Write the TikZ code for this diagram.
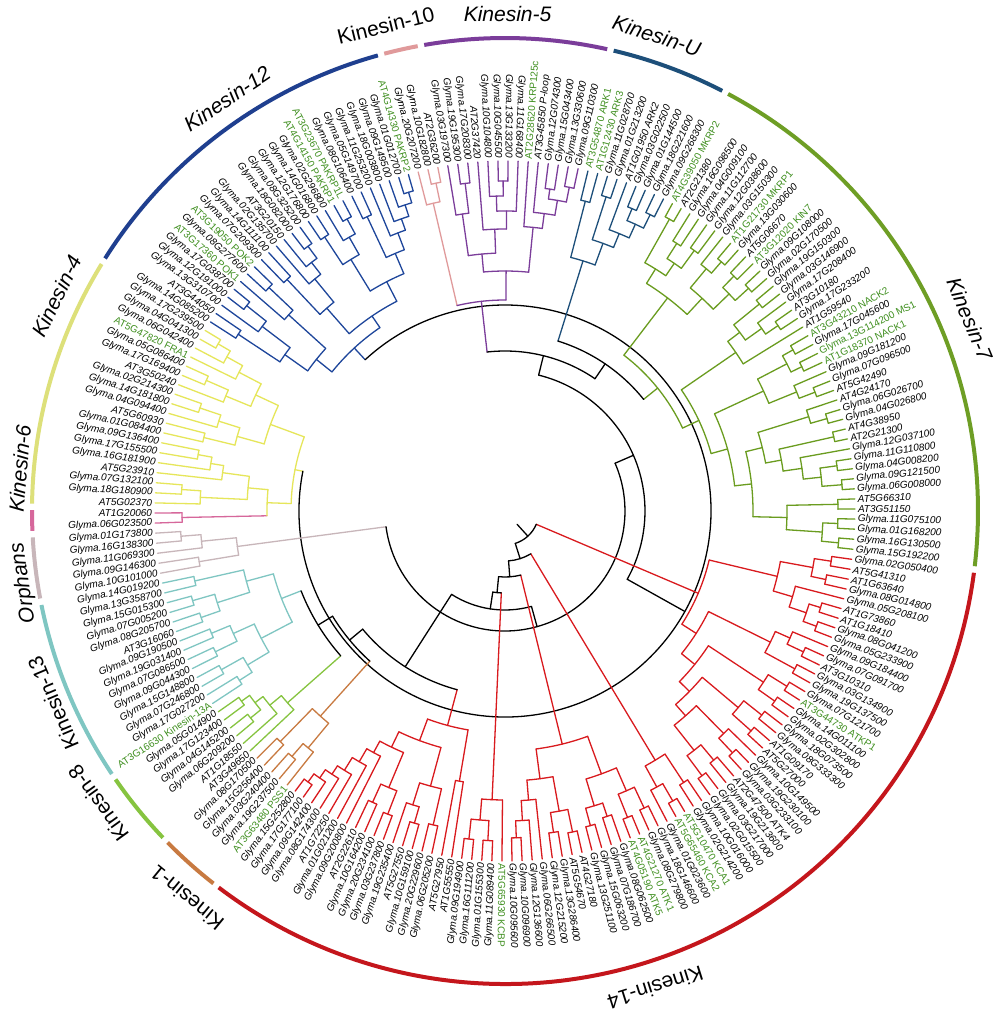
\documentclass[tikz,border=0pt]{standalone}
\usepackage{fontspec}
\setmainfont{Liberation Sans}
\begin{document}
\definecolor{c12}{HTML}{1E469B}
\definecolor{c10}{HTML}{E09A9B}
\definecolor{c5}{HTML}{7B3D9A}
\definecolor{cu}{HTML}{1D4F7A}
\definecolor{c7}{HTML}{6A9C1F}
\definecolor{c14}{HTML}{D91A1E}
\definecolor{c1}{HTML}{C87A41}
\definecolor{c8}{HTML}{86C440}
\definecolor{c13}{HTML}{7FC6C2}
\definecolor{cor}{HTML}{C8B6BA}
\definecolor{c6}{HTML}{D6679B}
\definecolor{c4}{HTML}{E6E65A}
\definecolor{a12}{HTML}{1F3F8F}
\definecolor{a14}{HTML}{C4161C}
\definecolor{a7}{HTML}{6E9E25}
\definecolor{a4}{HTML}{DDE07A}
\definecolor{grn}{HTML}{3F8F1F}
\def\ThZ{147.3}
\def\DTh{1.65138}
\def\Rtip{350}
\def\Rlab{352}
\newcommand\mkleaf[2]{%
  \pgfmathsetmacro\tmpa{\ThZ-\DTh*#1}%
  \expandafter\xdef\csname na@L#1\endcsname{\tmpa}%
  \expandafter\xdef\csname nr@L#1\endcsname{\Rtip}%
  \expandafter\xdef\csname nc@L#1\endcsname{#2}}
\newcommand\clade[4]{%
  \xdef\amin{10000}\xdef\amax{-10000}%
  \foreach \ch in {#4}{%
    \edef\ca{\csname na@\ch\endcsname}%
    \edef\cr{\csname nr@\ch\endcsname}%
    \edef\cc{\csname nc@\ch\endcsname}%
    \draw[br,color=\cc] (\ca:#3pt) -- (\ca:\cr pt);
    \pgfmathsetmacro\tmpb{min(\amin,\ca)}\xdef\amin{\tmpb}%
    \pgfmathsetmacro\tmpb{max(\amax,\ca)}\xdef\amax{\tmpb}%
  }%
  \draw[br,color=#1] (\amin:#3pt) arc[start angle=\amin,end angle=\amax,radius=#3pt];
  \pgfmathsetmacro\tmpb{(\amin+\amax)/2}%
  \coordinate (n-#2) at (\tmpb:#3pt);
  \expandafter\xdef\csname na@#2\endcsname{\tmpb}%
  \expandafter\xdef\csname nr@#2\endcsname{#3}%
  \expandafter\xdef\csname nc@#2\endcsname{#1}}
\newcommand\leaflabL[3]{%
  \pgfmathsetmacro\tmpr{\tmpa+180}%
  \node[#2,anchor=east,rotate=\tmpr] (t#1) at (\tmpa:\Rlab pt) {#3};}
\newcommand\leaflab[3]{%
  \pgfmathsetmacro\tmpa{\ThZ-\DTh*#1}%
  \ifnum#1>36\relax
    \ifnum#1<145\relax
      \node[#2,anchor=west,rotate=\tmpa] (t#1) at (\tmpa:\Rlab pt) {#3};%
    \else\leaflabL{#1}{#2}{#3}\fi
  \else\leaflabL{#1}{#2}{#3}\fi}
\newcommand\garc[3]{%
  \pgfmathsetmacro\gaa{\ThZ-\DTh*(#1-0.5)-0.4}%
  \pgfmathsetmacro\gbb{\ThZ-\DTh*(#2+0.5)+0.4}%
  \draw[line width=4pt,color=#3] (\gaa:473pt) arc[start angle=\gaa,end angle=\gbb,radius=473pt];}
\newcommand\glab[4]{% angle, radius, shape, text
  \pgfmathsetmacro\tmpr{#1-90}%
  \node[grp,#3,rotate=\tmpr] (g-#4) at (#1:#2pt) {#4};}
\begin{tikzpicture}[
  br/.style={line width=1.3pt,line cap=round,line join=round},
  lb/.style={font=\fontsize{10}{12}\selectfont\itshape,inner sep=0.8pt,text=black},
  lg/.style={font=\fontsize{10}{12}\selectfont,inner sep=0.8pt,text=grn},
  grp/.style={font=\fontsize{21}{25}\selectfont,inner sep=0pt,text=black},
  it/.style={font=\fontsize{21}{25}\selectfont\itshape}]
\fill[white] (-505pt,-504pt) rectangle (495pt,511pt);
\useasboundingbox (-505pt,-504pt) rectangle (495pt,511pt);
% leaves
\foreach \i in {0,...,25}{\mkleaf{\i}{c12}}
\foreach \i in {26,...,28}{\mkleaf{\i}{c10}}
\foreach \i in {29,...,42}{\mkleaf{\i}{c5}}
\foreach \i in {43,...,51}{\mkleaf{\i}{cu}}
\foreach \i in {52,...,93}{\mkleaf{\i}{c7}}
\foreach \i in {94,...,166}{\mkleaf{\i}{c14}}
\foreach \i in {167,...,171}{\mkleaf{\i}{c1}}
\foreach \i in {172,...,177}{\mkleaf{\i}{c8}}
\foreach \i in {178,...,191}{\mkleaf{\i}{c13}}
\foreach \i in {192,...,196}{\mkleaf{\i}{cor}}
\foreach \i in {197,198}{\mkleaf{\i}{c6}}
\foreach \i in {199,...,217}{\mkleaf{\i}{c4}}
% Kinesin-12
\clade{c12}{a1}{320}{L0,L1}
\clade{c12}{a2}{330}{L3,L4}
\clade{c12}{a3}{305}{L2,a2}
\clade{c12}{a4}{270}{a1,a3}
\clade{c12}{a5}{325}{L6,L7}
\clade{c12}{a6}{292}{L5,a5}
\clade{c12}{K12a}{242}{a4,a6}
\clade{c12}{b1}{318}{L8,L9}
\clade{c12}{b2}{330}{L12,L13}
\clade{c12}{b3}{315}{L11,b2}
\clade{c12}{b4}{300}{L10,b3}
\clade{c12}{b5}{270}{b1,b4}
\clade{c12}{b6}{328}{L14,L15}
\clade{c12}{b7}{332}{L17,L18}
\clade{c12}{b8}{315}{L16,b7}
\clade{c12}{b9}{295}{b6,b8}
\clade{c12}{b10}{325}{L19,L20}
\clade{c12}{b11}{333}{L24,L25}
\clade{c12}{b12}{322}{L23,b11}
\clade{c12}{b13}{310}{L22,b12}
\clade{c12}{b14}{298}{L21,b13}
\clade{c12}{b15}{280}{b10,b14}
\clade{c12}{b16}{258}{b9,b15}
\clade{c12}{K12b}{236}{b5,b16}
\clade{c12}{K12}{222}{K12a,K12b}
% Kinesin-6 / Kinesin-4
\clade{c6}{K6}{323}{L197,L198}
\clade{c4}{d1}{324}{L200,L201}
\clade{c4}{d2}{305}{L199,d1}
\clade{c4}{d3}{312}{L204,L205}
\clade{c4}{d4}{298}{L203,d3}
\clade{c4}{d5}{285}{L202,d4}
\clade{c4}{K4ab}{258}{d2,d5}
\clade{c4}{K6K4}{238}{K6,K4ab}
\clade{c4}{d6}{310}{L206,L207}
\clade{c4}{d7}{322}{L209,L210}
\clade{c4}{d8}{300}{L208,d7}
\clade{c4}{d9}{278}{d6,d8}
\clade{c4}{d10}{326}{L212,L213}
\clade{c4}{d11}{302}{L211,d10}
\clade{c4}{d12}{332}{L216,L217}
\clade{c4}{d13}{318}{L215,d12}
\clade{c4}{d14}{300}{L214,d13}
\clade{c4}{d15}{275}{d11,d14}
\clade{c4}{K4cd}{250}{d9,d15}
\clade{c4}{K4}{214}{K6K4,K4cd}
\clade{black}{K12K4}{206}{K12,K4}
% Kinesin-10 / Kinesin-5
\clade{c10}{e1}{335}{L27,L28}
\clade{c10}{K10}{316}{L26,e1}
\clade{c5}{f1}{330}{L30,L31}
\clade{c5}{f2}{300}{L29,f1}
\clade{c5}{f3}{330}{L34,L35}
\clade{c5}{f4}{315}{L33,f3}
\clade{c5}{f5}{300}{f4,L36}
\clade{c5}{f6}{282}{L32,f5}
\clade{c5}{f7}{258}{f2,f6}
\clade{c5}{f8}{325}{L39,L40}
\clade{c5}{f9}{330}{L41,L42}
\clade{c5}{f10}{315}{f8,f9}
\clade{c5}{f11}{300}{L38,f10}
\clade{c5}{f12}{285}{L37,f11}
\clade{c5}{K5}{240}{f7,f12}
\clade{c5}{K10K5}{211}{K10,K5}
% Kinesin-U
\clade{cu}{g1}{320}{L43,L44}
\clade{cu}{g2}{330}{L45,L46}
\clade{cu}{g3}{328}{L48,L49}
\clade{cu}{g4}{330}{L50,L51}
\clade{cu}{g5}{315}{g3,g4}
\clade{cu}{g6}{300}{L47,g5}
\clade{cu}{g7}{285}{g2,g6}
\clade{cu}{KU}{262}{g1,g7}
% Kinesin-7
\clade{c7}{h1}{335}{L52,L53}
\clade{c7}{h2}{318}{L54,L55}
\clade{c7}{h3}{322}{L56,L57}
\clade{c7}{h4}{300}{h2,h3}
\clade{c7}{U1}{285}{h1,h4}
\clade{c7}{h5}{330}{L59,L60}
\clade{c7}{h6}{315}{L58,h5}
\clade{c7}{h7}{328}{L61,L62}
\clade{c7}{h8}{330}{L63,L64}
\clade{c7}{h9}{312}{h7,h8}
\clade{c7}{U2}{290}{h6,h9}
\clade{c7}{U}{268}{U1,U2}
\clade{c7}{i1}{328}{L65,L66}
\clade{c7}{i2}{330}{L68,L69}
\clade{c7}{i3}{315}{L67,i2}
\clade{c7}{i4}{295}{i1,i3}
\clade{c7}{i5}{280}{i4,L70}
\clade{c7}{i6}{330}{L71,L72}
\clade{c7}{i7}{330}{L73,L74}
\clade{c7}{i8}{318}{i6,i7}
\clade{c7}{i9}{332}{L76,L77}
\clade{c7}{i10}{315}{L75,i9}
\clade{c7}{i11}{285}{i8,i10}
\clade{c7}{i12}{335}{L79,L80}
\clade{c7}{i13}{318}{L78,i12}
\clade{c7}{i14}{337}{L81,L82}
\clade{c7}{i15}{335}{L84,L85}
\clade{c7}{i16}{338}{L86,L87}
\clade{c7}{i17}{318}{i15,i16}
\clade{c7}{i18}{300}{L83,i17}
\clade{c7}{i19}{281}{i14,i18}
\clade{c7}{i20}{265}{i13,i19}
\clade{c7}{i21}{333}{L88,L89}
\clade{c7}{i22}{333}{L90,L91}
\clade{c7}{i23}{335}{L92,L93}
\clade{c7}{i24}{318}{i22,i23}
\clade{c7}{i25}{282}{i21,i24}
\clade{c7}{i26}{248}{i20,i25}
\clade{c7}{i27}{231}{i11,i26}
\clade{c7}{i28}{214}{i5,i27}
\clade{c7}{K7}{196}{U,i28}
\clade{black}{KUK7}{178}{KU,K7}
\clade{black}{A}{160}{K10K5,KUK7}
\clade{black}{B}{140}{K12K4,A}
% Orphans
\clade{cor}{j1}{310}{L192,L193}
\clade{cor}{j2}{325}{L195,L196}
\clade{cor}{j3}{305}{L194,j2}
\clade{cor}{Orph}{270}{j1,j3}
\clade{black}{C}{120}{B,Orph}
% Kinesin-14 R1
\clade{c14}{k1}{330}{L94,L95}
\clade{c14}{k2}{328}{L96,L97}
\clade{c14}{k3}{313}{k1,k2}
\clade{c14}{k4}{330}{L99,L100}
\clade{c14}{k5}{332}{L101,L102}
\clade{c14}{k6}{318}{k4,k5}
\clade{c14}{k7}{300}{L98,k6}
\clade{c14}{k8}{280}{k3,k7}
\clade{c14}{k9}{330}{L104,L105}
\clade{c14}{k10}{312}{L103,k9}
\clade{c14}{k11}{330}{L106,L107}
\clade{c14}{k12}{296}{k10,k11}
\clade{c14}{k13}{332}{L108,L109}
\clade{c14}{k14}{330}{L110,L111}
\clade{c14}{k15}{310}{k13,k14}
\clade{c14}{k16}{328}{L112,L113}
\clade{c14}{k17}{330}{L114,L115}
\clade{c14}{k18}{305}{k16,k17}
\clade{c14}{k19}{332}{L117,L118}
\clade{c14}{k20}{312}{L116,k19}
\clade{c14}{k21}{325}{L119,L120}
\clade{c14}{k22}{330}{L121,L122}
\clade{c14}{k23}{305}{k21,k22}
\clade{c14}{k24}{273}{k20,k23}
\clade{c14}{k25}{258}{k18,k24}
\clade{c14}{k26}{244}{k15,k25}
\clade{c14}{k27}{227}{k12,k26}
\clade{c14}{R1}{210}{k8,k27}
% R2
\clade{c14}{m1}{325}{L123,L124}
\clade{c14}{m2}{335}{L125,L126}
\clade{c14}{m3}{315}{m2,L127}
\clade{c14}{R2}{291}{m1,m3}
% R3
\clade{c14}{n1}{328}{L128,L129}
\clade{c14}{n2}{330}{L130,L131}
\clade{c14}{n3}{305}{n1,n2}
\clade{c14}{n4}{322}{L132,L133}
\clade{c14}{n5}{326}{L134,L135}
\clade{c14}{n6}{308}{n4,n5}
\clade{c14}{n7}{280}{n3,n6}
\clade{c14}{n8}{327}{L142,L143}
\clade{c14}{n9}{310}{L141,n8}
\clade{c14}{n10}{290}{L140,n9}
\clade{c14}{n11}{325}{L138,L139}
\clade{c14}{n12}{328}{L136,L137}
\clade{c14}{n13}{305}{n11,n12}
\clade{c14}{n14}{270}{n10,n13}
\clade{c14}{R3}{240}{n7,n14}
% R4
\clade{c14}{o1}{330}{L147,L148}
\clade{c14}{o2}{330}{L145,L146}
\clade{c14}{o3}{310}{o1,o2}
\clade{c14}{R4}{289}{o3,L144}
% R5
\clade{c14}{s1}{274}{L149,L150}
\clade{c14}{s2}{322}{L151,L152}
\clade{c14}{s3}{325}{L153,L154}
\clade{c14}{s4}{308}{s3,L155}
\clade{c14}{s5}{285}{s2,s4}
\clade{c14}{s6}{325}{L156,L157}
\clade{c14}{s7}{320}{L158,L159}
\clade{c14}{s8}{300}{s6,s7}
\clade{c14}{s9}{335}{L165,L166}
\clade{c14}{s10}{325}{L164,s9}
\clade{c14}{s11}{315}{L163,s10}
\clade{c14}{s12}{305}{L162,s11}
\clade{c14}{s13}{290}{L161,s12}
\clade{c14}{s14}{275}{L160,s13}
\clade{c14}{s15}{262}{s8,s14}
\clade{c14}{s16}{245}{s5,s15}
\clade{c14}{R5}{222}{s1,s16}
% Kinesin-1
\clade{c1}{t1}{322}{L170,L171}
\clade{c1}{t2}{325}{L168,L169}
\clade{c1}{t3}{308}{t2,L167}
\clade{c1}{K1}{276}{t1,t3}
% Kinesin-8
\clade{c8}{u1}{328}{L174,L175}
\clade{c8}{u2}{325}{L176,L177}
\clade{c8}{u3}{315}{u1,u2}
\clade{c8}{u4}{305}{L173,u3}
\clade{c8}{K8}{290}{L172,u4}
% Kinesin-13
\clade{c13}{v1}{318}{L190,L191}
\clade{c13}{v2}{325}{L188,L189}
\clade{c13}{v3}{322}{L186,L187}
\clade{c13}{v4}{302}{v2,v3}
\clade{c13}{v5}{268}{v1,v4}
\clade{c13}{v6}{318}{L184,L185}
\clade{c13}{v7}{322}{L182,L183}
\clade{c13}{v8}{298}{v6,v7}
\clade{c13}{v9}{325}{L180,L181}
\clade{c13}{v10}{315}{L178,L179}
\clade{c13}{v11}{300}{v9,v10}
\clade{c13}{v12}{275}{v8,v11}
\clade{c13}{K13}{240}{v5,v12}
% backbone
\clade{black}{G}{219}{K13,K8}
\clade{black}{F}{202}{G,K1}
\clade{black}{E}{185}{R5,F}
\clade{black}{D}{99}{C,E}
\clade{black}{H}{82}{D,R4}
\clade{black}{I}{66}{H,R3}
\clade{black}{J}{50}{I,R2}
\clade{black}{K}{34}{J,R1}
\edef\rootang{\csname na@K\endcsname}
\coordinate (root) at (\rootang:18pt);
\draw[br] (n-K) -- (root);
% group arcs
\garc{0}{25}{a12}
\garc{26}{28}{c10}
\garc{29}{42}{c5}
\garc{43}{51}{cu}
\garc{52}{93}{a7}
\garc{94}{166}{a14}
\garc{167}{171}{c1}
\garc{172}{177}{c8}
\garc{178}{191}{c13}
\garc{192}{196}{cor}
\garc{197}{198}{c6}
\garc{199}{217}{a4}
% group labels
\glab{124}{497}{it}{Kinesin-12}
\glab{103.8}{500}{}{Kinesin-10}
\glab{89.7}{497}{it}{Kinesin-5}
\glab{72.3}{499}{it}{Kinesin-U}
\glab{22.4}{503}{it}{Kinesin-7}
\glab{-72.5}{500}{}{Kinesin-14}
\glab{-129.4}{501}{}{Kinesin-1}
\glab{-144.3}{501}{}{Kinesin-8}
\glab{-157}{491}{}{Kinesin-13}
\glab{-171.5}{487}{it}{Orphans}
\glab{175}{487}{it}{Kinesin-6}
\glab{154.4}{497}{it}{Kinesin-4}
% leaf labels
\leaflab{0}{lb}{Glyma.14G085200}
\leaflab{1}{lb}{AT3G44050}
\leaflab{2}{lb}{Glyma.13G310700}
\leaflab{3}{lb}{Glyma.12G191000}
\leaflab{4}{lb}{Glyma.17G038700}
\leaflab{5}{lg}{AT3G17360 POK1}
\leaflab{6}{lb}{Glyma.08G277600}
\leaflab{7}{lg}{AT3G19050 POK2}
\leaflab{8}{lb}{Glyma.07G209300}
\leaflab{9}{lb}{Glyma.14G111100}
\leaflab{10}{lb}{Glyma.02G135700}
\leaflab{11}{lb}{AT3G20150}
\leaflab{12}{lb}{Glyma.18G082000}
\leaflab{13}{lb}{Glyma.08G325200}
\leaflab{14}{lb}{Glyma.12G176800}
\leaflab{15}{lb}{Glyma.14G016800}
\leaflab{16}{lb}{Glyma.02G296800}
\leaflab{17}{lg}{AT4G14150 PAKRP1}
\leaflab{18}{lg}{AT3G23670 PAKRP1L}
\leaflab{19}{lb}{Glyma.08G106400}
\leaflab{20}{lb}{Glyma.05G149700}
\leaflab{21}{lb}{Glyma.11G253200}
\leaflab{22}{lb}{Glyma.18G003800}
\leaflab{23}{lb}{Glyma.09G149500}
\leaflab{24}{lb}{Glyma.01G012700}
\leaflab{25}{lg}{AT4G14330 PAKRP2}
\leaflab{26}{lb}{Glyma.20G207200}
\leaflab{27}{lb}{Glyma.10G182800}
\leaflab{28}{lb}{AT2G36200}
\leaflab{29}{lb}{Glyma.03G197300}
\leaflab{30}{lb}{Glyma.19G195300}
\leaflab{31}{lb}{Glyma.17G208300}
\leaflab{32}{lb}{AT2G37420}
\leaflab{33}{lb}{Glyma.10G104800}
\leaflab{34}{lb}{Glyma.10G045500}
\leaflab{35}{lb}{Glyma.13G133200}
\leaflab{36}{lb}{Glyma.11G168400}
\leaflab{37}{lg}{AT2G28620 KRP125c}
\leaflab{38}{lb}{AT3G45850 P-loop}
\leaflab{39}{lb}{Glyma.12G074300}
\leaflab{40}{lb}{Glyma.15G043400}
\leaflab{41}{lb}{Glyma.13G330600}
\leaflab{42}{lb}{Glyma.09G110300}
\leaflab{43}{lg}{AT3G54870 ARK1}
\leaflab{44}{lg}{AT1G12430 ARK3}
\leaflab{45}{lb}{Glyma.11G028700}
\leaflab{46}{lb}{Glyma.01G213200}
\leaflab{47}{lb}{AT1G01950 ARK2}
\leaflab{48}{lb}{Glyma.03G022500}
\leaflab{49}{lb}{Glyma.01G144500}
\leaflab{50}{lb}{Glyma.18G221600}
\leaflab{51}{lb}{Glyma.09G268300}
\leaflab{52}{lg}{AT4G39050 MKRP2}
\leaflab{53}{lb}{AT2G21380}
\leaflab{54}{lb}{Glyma.16G098500}
\leaflab{55}{lb}{Glyma.04G009100}
\leaflab{56}{lb}{Glyma.11G112700}
\leaflab{57}{lb}{Glyma.12G038600}
\leaflab{58}{lb}{Glyma.03G150300}
\leaflab{59}{lg}{AT1G21730 MKRP1}
\leaflab{60}{lb}{Glyma.13G030600}
\leaflab{61}{lb}{AT5G06670}
\leaflab{62}{lg}{AT3G12020 KIN7}
\leaflab{63}{lb}{Glyma.09G108000}
\leaflab{64}{lb}{Glyma.02G170500}
\leaflab{65}{lb}{Glyma.19G150300}
\leaflab{66}{lb}{Glyma.03G146900}
\leaflab{67}{lb}{Glyma.17G208400}
\leaflab{68}{lb}{AT3G10180}
\leaflab{69}{lb}{Glyma.17G233200}
\leaflab{70}{lb}{AT1G59540}
\leaflab{71}{lg}{AT3G43210 NACK2}
\leaflab{72}{lb}{Glyma.17G045600}
\leaflab{73}{lg}{Glyma.13G114200 MS1}
\leaflab{74}{lg}{AT1G18370 NACK1}
\leaflab{75}{lb}{Glyma.09G181200}
\leaflab{76}{lb}{Glyma.07G096500}
\leaflab{77}{lb}{AT5G42490}
\leaflab{78}{lb}{AT4G24170}
\leaflab{79}{lb}{Glyma.06G026700}
\leaflab{80}{lb}{Glyma.04G026800}
\leaflab{81}{lb}{AT4G38950}
\leaflab{82}{lb}{AT2G21300}
\leaflab{83}{lb}{Glyma.12G037100}
\leaflab{84}{lb}{Glyma.11G110800}
\leaflab{85}{lb}{Glyma.04G008200}
\leaflab{86}{lb}{Glyma.09G121500}
\leaflab{87}{lb}{Glyma.06G008000}
\leaflab{88}{lb}{AT5G66310}
\leaflab{89}{lb}{AT3G51150}
\leaflab{90}{lb}{Glyma.11G075100}
\leaflab{91}{lb}{Glyma.01G168200}
\leaflab{92}{lb}{Glyma.16G130500}
\leaflab{93}{lb}{Glyma.15G192200}
\leaflab{94}{lb}{Glyma.02G050400}
\leaflab{95}{lb}{AT5G41310}
\leaflab{96}{lb}{AT1G63640}
\leaflab{97}{lb}{Glyma.08G014800}
\leaflab{98}{lb}{Glyma.05G208100}
\leaflab{99}{lb}{AT1G73860}
\leaflab{100}{lb}{AT1G18410}
\leaflab{101}{lb}{Glyma.08G041200}
\leaflab{102}{lb}{Glyma.05G233900}
\leaflab{103}{lb}{Glyma.09G184400}
\leaflab{104}{lb}{Glyma.07G091700}
\leaflab{105}{lb}{AT3G10310}
\leaflab{106}{lb}{Glyma.03G134900}
\leaflab{107}{lb}{Glyma.19G137500}
\leaflab{108}{lb}{Glyma.07G121700}
\leaflab{109}{lg}{AT3G44730 ATKP1}
\leaflab{110}{lb}{Glyma.14G011100}
\leaflab{111}{lb}{Glyma.02G302800}
\leaflab{112}{lb}{Glyma.18G073500}
\leaflab{113}{lb}{Glyma.08G333300}
\leaflab{114}{lb}{AT1G09170}
\leaflab{115}{lb}{AT5G27000}
\leaflab{116}{lb}{Glyma.10G149500}
\leaflab{117}{lb}{Glyma.19G230100}
\leaflab{118}{lb}{Glyma.03G233100}
\leaflab{119}{lb}{AT2G47500 ATK4}
\leaflab{120}{lb}{Glyma.19G213600}
\leaflab{121}{lb}{Glyma.03G217000}
\leaflab{122}{lb}{Glyma.02G015500}
\leaflab{123}{lb}{Glyma.10G016000}
\leaflab{124}{lb}{Glyma.02G214200}
\leaflab{125}{lg}{AT5G10470 KCA1}
\leaflab{126}{lg}{AT5G65460 KCA2}
\leaflab{127}{lb}{Glyma.01G023600}
\leaflab{128}{lb}{Glyma.18G146600}
\leaflab{129}{lb}{Glyma.08G279800}
\leaflab{130}{lg}{AT4G21270 ATK1}
\leaflab{131}{lg}{AT4G05190 ATK5}
\leaflab{132}{lb}{Glyma.08G062500}
\leaflab{133}{lb}{Glyma.07G186700}
\leaflab{134}{lb}{Glyma.15G063200}
\leaflab{135}{lb}{Glyma.13G251100}
\leaflab{136}{lb}{AT4G27180}
\leaflab{137}{lb}{AT5G54670}
\leaflab{138}{lb}{Glyma.13G286400}
\leaflab{139}{lb}{Glyma.12G215200}
\leaflab{140}{lb}{Glyma.06G266500}
\leaflab{141}{lb}{Glyma.12G136600}
\leaflab{142}{lb}{Glyma.10G096900}
\leaflab{143}{lb}{Glyma.10G095600}
\leaflab{144}{lg}{AT5G65930 KCBP}
\leaflab{145}{lb}{Glyma.11G089400}
\leaflab{146}{lb}{Glyma.01G155300}
\leaflab{147}{lb}{Glyma.16G111200}
\leaflab{148}{lb}{Glyma.09G194900}
\leaflab{149}{lb}{AT1G55550}
\leaflab{150}{lb}{AT5G27950}
\leaflab{151}{lb}{Glyma.06G205200}
\leaflab{152}{lb}{Glyma.20G229600}
\leaflab{153}{lb}{Glyma.10G159100}
\leaflab{154}{lb}{AT5G27550}
\leaflab{155}{lb}{Glyma.19G235400}
\leaflab{156}{lb}{Glyma.03G237800}
\leaflab{157}{lb}{Glyma.20G234100}
\leaflab{158}{lb}{Glyma.10G164200}
\leaflab{159}{lb}{AT2G22610}
\leaflab{160}{lb}{Glyma.09G200800}
\leaflab{161}{lb}{Glyma.01G021200}
\leaflab{162}{lb}{AT1G72250}
\leaflab{163}{lb}{Glyma.08G174300}
\leaflab{164}{lb}{Glyma.09G142400}
\leaflab{165}{lb}{Glyma.17G177100}
\leaflab{166}{lb}{Glyma.15G252800}
\leaflab{167}{lg}{AT3G63480 PSS1}
\leaflab{168}{lb}{Glyma.19G237500}
\leaflab{169}{lb}{Glyma.03G240400}
\leaflab{170}{lb}{Glyma.15G256400}
\leaflab{171}{lb}{Glyma.08G170500}
\leaflab{172}{lb}{AT3G49650}
\leaflab{173}{lb}{AT1G18550}
\leaflab{174}{lb}{Glyma.06G209200}
\leaflab{175}{lb}{Glyma.04G145200}
\leaflab{176}{lb}{Glyma.17G123400}
\leaflab{177}{lb}{Glyma.05G014900}
\leaflab{178}{lg}{AT3G16630 Kinesin-13A}
\leaflab{179}{lb}{Glyma.17G027200}
\leaflab{180}{lb}{Glyma.07G246800}
\leaflab{181}{lb}{Glyma.15G148800}
\leaflab{182}{lb}{Glyma.09G044300}
\leaflab{183}{lb}{Glyma.07G086500}
\leaflab{184}{lb}{Glyma.19G031400}
\leaflab{185}{lb}{Glyma.09G190500}
\leaflab{186}{lb}{AT3G16060}
\leaflab{187}{lb}{Glyma.08G205700}
\leaflab{188}{lb}{Glyma.07G005200}
\leaflab{189}{lb}{Glyma.15G015300}
\leaflab{190}{lb}{Glyma.13G358700}
\leaflab{191}{lb}{Glyma.14G019200}
\leaflab{192}{lb}{Glyma.10G101000}
\leaflab{193}{lb}{Glyma.09G146300}
\leaflab{194}{lb}{Glyma.11G069300}
\leaflab{195}{lb}{Glyma.16G138300}
\leaflab{196}{lb}{Glyma.01G173800}
\leaflab{197}{lb}{Glyma.06G023500}
\leaflab{198}{lb}{AT1G20060}
\leaflab{199}{lb}{AT5G02370}
\leaflab{200}{lb}{Glyma.18G180900}
\leaflab{201}{lb}{Glyma.07G132100}
\leaflab{202}{lb}{AT5G23910}
\leaflab{203}{lb}{Glyma.16G181900}
\leaflab{204}{lb}{Glyma.17G155500}
\leaflab{205}{lb}{Glyma.09G136400}
\leaflab{206}{lb}{Glyma.01G084400}
\leaflab{207}{lb}{AT5G60930}
\leaflab{208}{lb}{Glyma.04G094400}
\leaflab{209}{lb}{Glyma.14G181800}
\leaflab{210}{lb}{Glyma.02G214300}
\leaflab{211}{lb}{AT3G50240}
\leaflab{212}{lb}{Glyma.17G169400}
\leaflab{213}{lb}{Glyma.05G086400}
\leaflab{214}{lg}{AT5G47820 FRA1}
\leaflab{215}{lb}{Glyma.06G042400}
\leaflab{216}{lb}{Glyma.04G041300}
\leaflab{217}{lb}{Glyma.17G239500}
\end{tikzpicture}
\end{document}
